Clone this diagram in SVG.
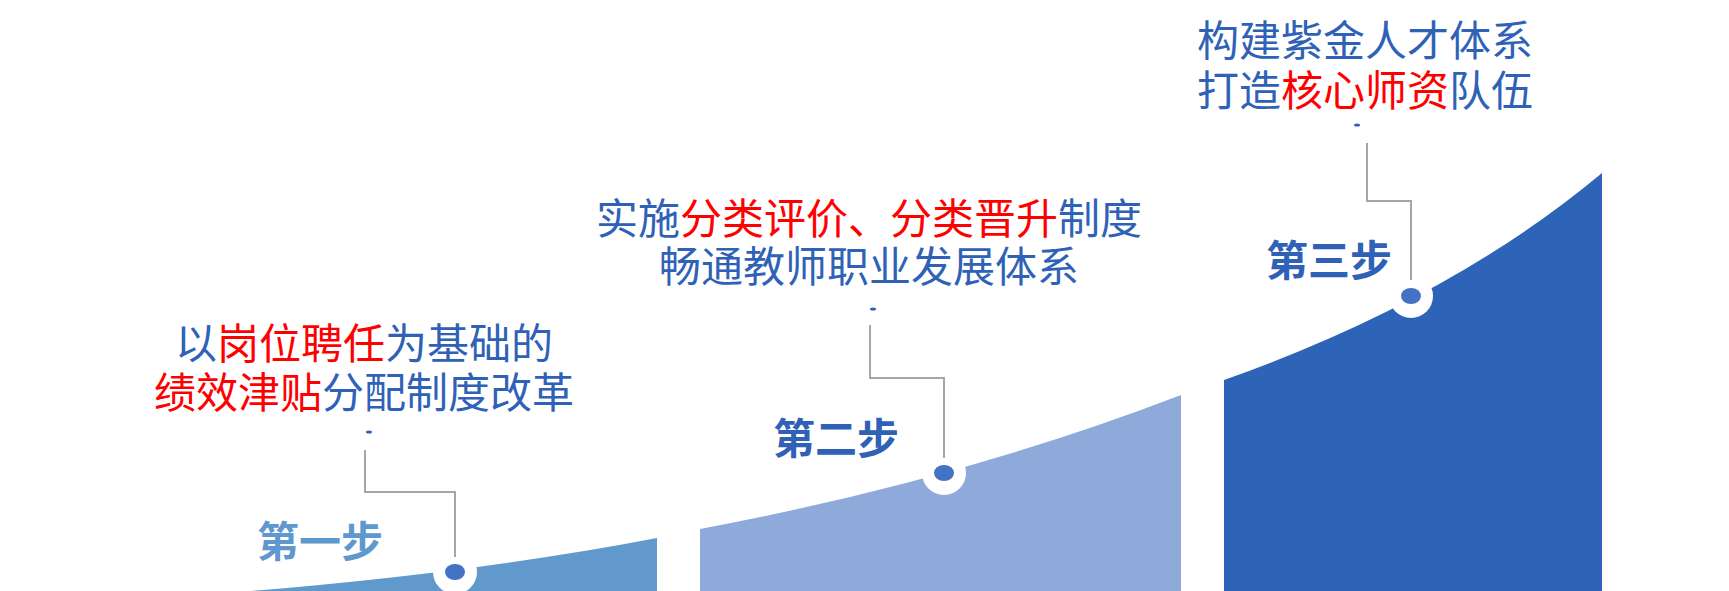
<svg xmlns="http://www.w3.org/2000/svg" width="1729" height="591" viewBox="0 0 1729 591">
<style>
.t{font-family:"Noto Sans CJK SC","Noto Sans",sans-serif;font-size:42px;fill:#2f62b7;text-anchor:middle}
.r{fill:#ff0000}
.s{font-family:"Noto Sans CJK SC",sans-serif;font-size:42px;font-weight:bold;text-anchor:middle}
.c{fill:none;stroke:#a6a6a6;stroke-width:2}
.d{fill:#2f62b7}
</style>
<rect width="1729" height="591" fill="#fff"/>
<g id="step1">
<path d="M251,591 Q480,572 657,538 L657,591 Z" fill="#6199cd"/>
<circle cx="455" cy="572" r="22" fill="#fff"/>
<ellipse cx="455" cy="572" rx="10" ry="8" fill="#4472c4"/>
<text class="s" x="320" y="557" fill="#5f98cf">第一步</text>
<text class="t" x="364" y="359">以<tspan class="r">岗位聘任</tspan>为基础的</text>
<text class="t" x="364" y="408"><tspan class="r">绩效津贴</tspan>分配制度改革</text>
<ellipse class="d" cx="369" cy="432" rx="3" ry="1.5"/>
</g>
<g id="step2">
<path d="M700,529 Q960,480 1181,395 L1181,591 L700,591 Z" fill="#8eaadb"/>
<circle cx="944" cy="473" r="22" fill="#fff"/>
<ellipse cx="944" cy="473" rx="10" ry="8" fill="#4472c4"/>
<text class="s" x="836" y="454" fill="#2f62b7">第二步</text>
<text class="t" x="869" y="234">实施<tspan class="r">分类评价、分类晋升</tspan>制度</text>
<text class="t" x="869" y="282">畅通教师职业发展体系</text>
<ellipse class="d" cx="873" cy="309" rx="3" ry="1.5"/>
</g>
<g id="step3">
<path d="M1224,380 Q1450,300 1602,173 L1602,591 L1224,591 Z" fill="#2e64b8"/>
<circle cx="1411" cy="296" r="22" fill="#fff"/>
<ellipse cx="1411" cy="296" rx="10" ry="8" fill="#4472c4"/>
<text class="s" x="1329" y="276" fill="#2f62b7">第三步</text>
<text class="t" x="1365" y="56">构建紫金人才体系</text>
<text class="t" x="1365" y="106">打造<tspan class="r">核心师资</tspan>队伍</text>
<ellipse class="d" cx="1357" cy="125" rx="3" ry="1.5"/>
</g>
<g id="connectors">
<polyline class="c" points="455,557 455,492 365,492 365,450"/>
<polyline class="c" points="944,458 944,378 870,378 870,325"/>
<polyline class="c" points="1411,280 1411,201 1367,201 1367,143"/>
</g>
</svg>
